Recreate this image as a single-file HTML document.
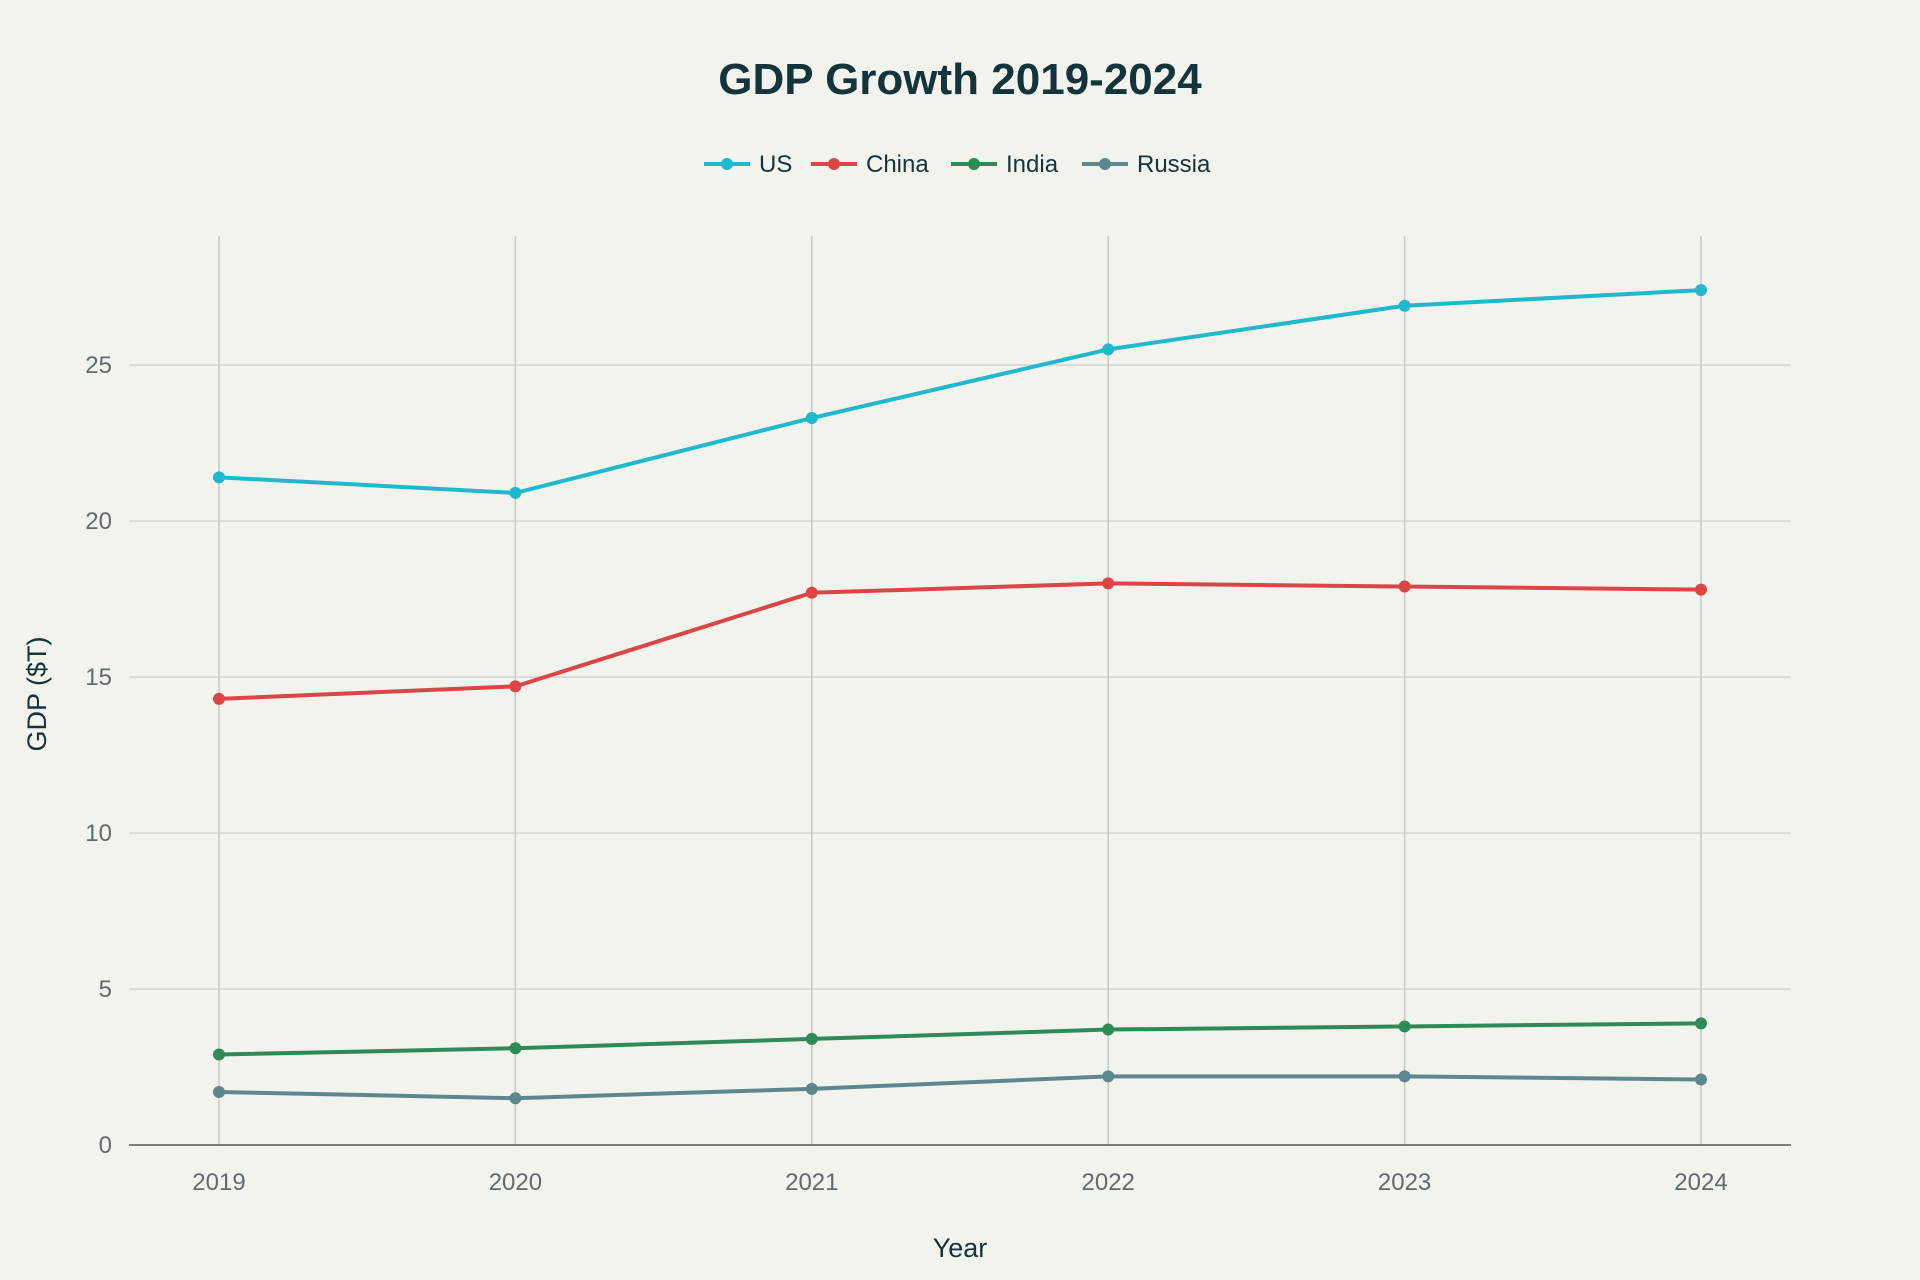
<!DOCTYPE html>
<html><head><meta charset="utf-8">
<style>
html,body{margin:0;padding:0;background:#F3F3EE;}
svg{display:block;font-family:"Liberation Sans",sans-serif;}
</style></head>
<body>
<svg id="chart" width="1920" height="1280" viewBox="0 0 1920 1280">
<rect width="1920" height="1280" fill="#F3F3EE"/>
<text x="960" y="94" text-anchor="middle" font-size="44" font-weight="bold" fill="#13343B">GDP Growth 2019-2024</text>
<g id="grid"></g>
<g id="axes"></g>
<g id="series"></g>
<g id="legend"></g>
<text x="960" y="1257" text-anchor="middle" font-size="27" fill="#13343B">Year</text>
<text x="0" y="0" transform="translate(46,694) rotate(-90)" text-anchor="middle" font-size="27" fill="#13343B">GDP ($T)</text>
</svg>
<script>
const years = ["2019","2020","2021","2022","2023","2024"];
const usValues = [21.4, 20.9, 23.3, 25.5, 26.9, 27.4];
const chinaValues = [14.3, 14.7, 17.7, 18.0, 17.9, 17.8];
const indiaValues = [2.9, 3.1, 3.4, 3.7, 3.8, 3.9];
const russiaValues = [1.7, 1.5, 1.8, 2.2, 2.2, 2.1];
const yTicks = [0, 5, 10, 15, 20, 25];
const seriesNames = ["US","China","India","Russia"];
const seriesColors = ["#1FB8CD","#DB4545","#2E8B57","#5D878F"];

const NS = "http://www.w3.org/2000/svg";
const plotLeft = 129, plotRight = 1791, plotTop = 236, plotBottom = 1145;
const x0 = 219, x1 = 1701;
function xScale(i){ return x0 + (x1 - x0) * i / (years.length - 1); }
function yScale(v){ return 1145 - v * (1145 - 365) / 25; }
function mk(tag, attrs, parent){
  const e = document.createElementNS(NS, tag);
  for (const k in attrs) e.setAttribute(k, attrs[k]);
  parent.appendChild(e); return e;
}
const grid = document.getElementById('grid');
const axes = document.getElementById('axes');
yTicks.forEach(t => {
  const y = yScale(t);
  if (t > 0) {
    const l = mk('line', {x1: plotLeft, x2: plotRight, y1: y, y2: y, stroke: '#D4D4CF', 'stroke-width': 1.5}, grid);
    
    
  }
  const tx = mk('text', {x: 112, y: y + 8, 'text-anchor': 'end', 'font-size': 24, fill: '#5F6B6D'}, axes);
  tx.textContent = t;
  
  
});
years.forEach((yr, i) => {
  const x = xScale(i);
  const l = mk('line', {x1: x, x2: x, y1: plotTop, y2: plotBottom, stroke: '#C8C8C3', 'stroke-width': 1.5}, grid);
  
  
  const tx = mk('text', {x: x, y: 1190, 'text-anchor': 'middle', 'font-size': 24, fill: '#5F6B6D'}, axes);
  tx.textContent = yr;
  
  
});
const axisLine = mk('line', {x1: plotLeft, x2: plotRight, y1: plotBottom, y2: plotBottom, stroke: '#555', 'stroke-width': 1.5}, axes);



const allValues = [usValues, chinaValues, indiaValues, russiaValues];
const series = document.getElementById('series');
allValues.forEach((vals, s) => {
  const g = mk('g', {}, series);
  
  
  const pts = vals.map((v, i) => xScale(i) + ',' + yScale(v)).join(' ');
  const pl = mk('polyline', {points: pts, fill: 'none', stroke: seriesColors[s], 'stroke-width': 4, 'stroke-linejoin': 'round'}, g);
  
  
  vals.forEach((v, i) => {
    const c = mk('circle', {cx: xScale(i), cy: yScale(v), r: 6, fill: seriesColors[s]}, g);
    
    
  });
});

const legend = document.getElementById('legend');
const legendX = [704, 811, 951, 1082];
seriesNames.forEach((n, s) => {
  const g = mk('g', {}, legend);
  
  
  const lx = legendX[s];
  mk('line', {x1: lx, x2: lx + 46, y1: 164, y2: 164, stroke: seriesColors[s], 'stroke-width': 4}, g);
  mk('circle', {cx: lx + 23, cy: 164, r: 6, fill: seriesColors[s]}, g);
  const t = mk('text', {x: lx + 55, y: 172, 'font-size': 24, fill: '#13343B'}, g);
  t.textContent = n;
});
</script>
</body></html>
